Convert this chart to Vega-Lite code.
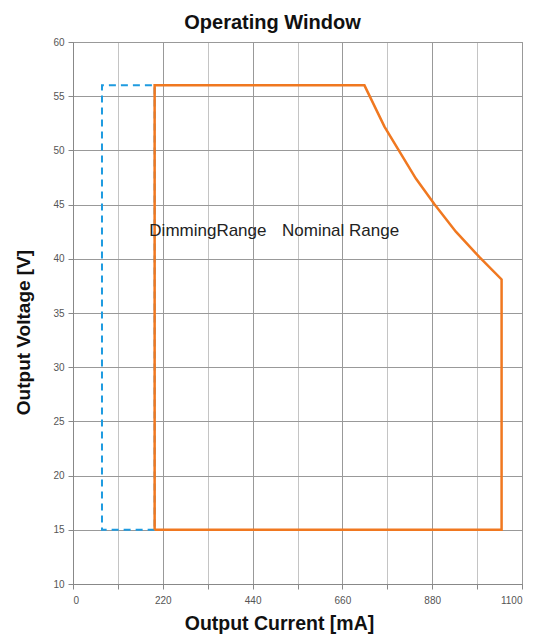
{
  "$schema": "https://vega.github.io/schema/vega-lite/v6.json",
  "autosize": {"type": "none"},
  "width": 449,
  "height": 542,
  "padding": {"left": 73, "top": 42, "right": 20, "bottom": 55},
  "background": "white",
  "title": {"text": "Operating Window", "font": "Liberation Sans", "fontSize": 20, "fontWeight": "bold", "color": "#111", "offset": 4, "dx": -25},
  "config": {
    "view": {"stroke": "#888", "strokeWidth": 1},
    "font": "Liberation Sans"
  },
  "datasets": {
    "nominal": [
      {"i": 0, "current": 200, "voltage": 15},
      {"i": 1, "current": 200, "voltage": 56},
      {"i": 2, "current": 714, "voltage": 56},
      {"i": 3, "current": 763, "voltage": 52.2},
      {"i": 4, "current": 840, "voltage": 47.4},
      {"i": 5, "current": 886, "voltage": 45},
      {"i": 6, "current": 938, "voltage": 42.5},
      {"i": 7, "current": 997, "voltage": 40.1},
      {"i": 8, "current": 1050, "voltage": 38.1},
      {"i": 9, "current": 1050, "voltage": 15},
      {"i": 10, "current": 200, "voltage": 15}
    ],
    "dimming": [
      {"i": 0, "current": 200, "voltage": 15},
      {"i": 1, "current": 71, "voltage": 15},
      {"i": 2, "current": 71, "voltage": 56},
      {"i": 3, "current": 200, "voltage": 56},
      {"i": 4, "current": 200, "voltage": 15}
    ],
    "labels": [
      {"current": 187, "voltage": 42.6, "text": "DimmingRange"},
      {"current": 512, "voltage": 42.6, "text": "Nominal Range"}
    ]
  },
  "layer": [
    {
      "data": {"name": "dimming"},
      "mark": {"type": "line", "color": "#1e9be0", "strokeWidth": 2, "strokeDash": [7, 5], "clip": true},
      "encoding": {
        "x": {
          "field": "current", "type": "quantitative",
          "scale": {"domain": [0, 1100], "nice": false, "zero": false},
          "axis": {
            "title": "Output Current [mA]",
            "titleFont": "Liberation Sans", "titleFontSize": 19.5, "titleFontWeight": "bold", "titleColor": "#111", "titlePadding": 9,
            "titleX": 206, "titleAlign": "center",
            "values": [0, 110, 220, 330, 440, 550, 660, 770, 880, 990, 1100],
            "labelExpr": "datum.value % 220 === 0 ? datum.label : ''",
            "format": "d",
            "labelFontSize": 10, "labelColor": "#555", "labelPadding": 6,
            "domainColor": "#888", "tickColor": "#888", "tickSize": 5,
            "grid": true,
            "gridColor": {"condition": {"test": "datum.value % 220 === 0", "value": "#999"}, "value": "#c4c4c4"},
            "gridOpacity": 1
          }
        },
        "y": {
          "field": "voltage", "type": "quantitative",
          "scale": {"domain": [10, 60], "nice": false, "zero": false},
          "axis": {
            "title": "Output Voltage [V]",
            "titleFont": "Liberation Sans", "titleFontSize": 19, "titleFontWeight": "bold", "titleColor": "#111", "titlePadding": 19,
            "titleY": 290, "titleAlign": "center",
            "values": [10, 15, 20, 25, 30, 35, 40, 45, 50, 55, 60],
            "labelFontSize": 10, "labelColor": "#555", "labelPadding": 4,
            "domainColor": "#888", "tickColor": "#888", "tickSize": 5,
            "grid": true, "gridColor": "#999", "gridOpacity": 1
          }
        },
        "order": {"field": "i", "type": "quantitative"}
      }
    },
    {
      "data": {"name": "nominal"},
      "mark": {"type": "line", "color": "#f07820", "strokeWidth": 2.5},
      "encoding": {
        "x": {"field": "current", "type": "quantitative"},
        "y": {"field": "voltage", "type": "quantitative"},
        "order": {"field": "i", "type": "quantitative"}
      }
    },
    {
      "data": {"name": "labels"},
      "mark": {"type": "text", "align": "left", "baseline": "middle", "fontSize": 17, "color": "#222", "font": "Liberation Sans"},
      "encoding": {
        "x": {"field": "current", "type": "quantitative"},
        "y": {"field": "voltage", "type": "quantitative"},
        "text": {"field": "text"}
      }
    }
  ]
}
